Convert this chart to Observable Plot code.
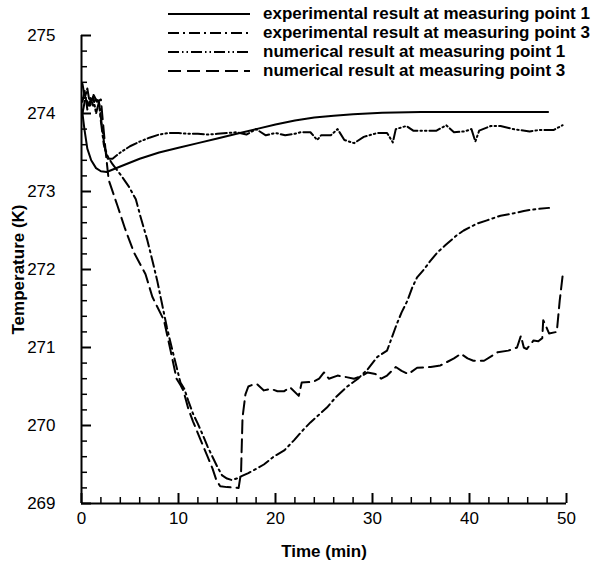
<!DOCTYPE html>
<html><head><meta charset="utf-8">
<script src="https://cdn.jsdelivr.net/npm/d3@7"></script>
<script src="https://cdn.jsdelivr.net/npm/@observablehq/plot@0.6"></script>
<style>
body{margin:0;background:#fff;}
#wrap{position:relative;width:611px;height:564px;font-family:"Liberation Sans",Arial,Helvetica,sans-serif;}
#legend{position:absolute;left:168px;top:4px;}
.row{display:flex;align-items:center;height:19px;font-weight:bold;font-size:17px;color:#000;white-space:nowrap;}
.row svg{margin-right:13px;display:block}
g[aria-label="x-axis label"] text, g[aria-label="y-axis label"] text{font-weight:bold;font-size:17px;}
</style></head><body><div id="wrap"><div id="chart"></div><div id="legend"></div></div>
<script>
// tick values
const xMajorTicks = [0, 10, 20, 30, 40, 50];
const xMinorTicks = [2, 4, 6, 8, 12, 14, 16, 18, 22, 24, 26, 28, 32, 34, 36, 38, 42, 44, 46, 48];
const yMajorTicks = [269, 270, 271, 272, 273, 274, 275];
const yMinorTicks = [269.2, 269.4, 269.6, 269.8, 270.2, 270.4, 270.6, 270.8, 271.2, 271.4, 271.6, 271.8,
  272.2, 272.4, 272.6, 272.8, 273.2, 273.4, 273.6, 273.8, 274.2, 274.4, 274.6, 274.8];

// series names
const seriesNames = ["experimental result at measuring point 1", "experimental result at measuring point 3",
  "numerical result at measuring point 1", "numerical result at measuring point 3"];

// experimental result at measuring point 1 (solid)
const exp1Time = [0.05, 0.3, 0.6, 1.0, 1.5, 2.0, 2.6, 4, 6, 8, 10, 12, 14, 16, 18, 20, 22, 24, 26, 28, 31, 35, 40, 48.1];
const exp1Temp = [274.05, 273.8, 273.55, 273.4, 273.3, 273.26, 273.25, 273.32, 273.42, 273.5, 273.56, 273.62, 273.68, 273.74, 273.8, 273.86, 273.91, 273.95, 273.97, 273.99, 274.01, 274.02, 274.02, 274.02];

// experimental result at measuring point 3 (dash-dot)
const exp3Time = [0.1, 0.35, 0.6, 0.9, 1.2, 1.5, 1.8, 2.0, 2.3, 2.7, 3.2, 4.0, 4.9, 5.6, 6.1, 6.8, 7.3, 7.8, 8.3, 8.8, 9.3, 9.8, 10.2, 10.6, 11, 11.5, 12, 12.5, 13, 13.5, 14, 14.5, 15, 15.5, 16, 16.5, 17.2, 17.8, 18.8, 19.8, 20.9, 21.9, 22.9, 23.6, 24.5, 25.3, 26.2, 27.4, 28.5, 29.5, 30.5, 31.5, 32.0, 32.5, 33.0, 33.6, 34.1, 34.6, 35.3, 35.9, 36.7, 37.5, 38.7, 39.4, 40.8, 41.8, 43.2, 44.2, 45.6, 46.6, 48.2];
const exp3Temp = [274.15, 274.3, 274.05, 274.2, 274.1, 274.2, 274.15, 273.9, 273.6, 273.45, 273.35, 273.22, 273.06, 272.9, 272.67, 272.37, 272.12, 271.86, 271.56, 271.26, 271.0, 270.75, 270.55, 270.47, 270.32, 270.15, 270.02, 269.88, 269.73, 269.6, 269.47, 269.36, 269.32, 269.3, 269.32, 269.35, 269.39, 269.43, 269.5, 269.6, 269.68, 269.81, 269.95, 270.04, 270.14, 270.23, 270.36, 270.5, 270.6, 270.72, 270.88, 270.96, 271.13, 271.3, 271.45, 271.6, 271.77, 271.9, 272.0, 272.1, 272.22, 272.31, 272.44, 272.5, 272.59, 272.63, 272.69, 272.71, 272.75, 272.77, 272.79];

// numerical result at measuring point 1 (dash-dot-dot)
const num1Time = [0.1, 0.35, 0.6, 0.9, 1.2, 1.5, 1.8, 2.1, 2.4, 2.7, 3.2, 4, 5, 6, 7, 8, 9, 10, 11, 12, 13, 14, 15, 16, 17, 18, 19, 20, 21, 22, 22.6, 23.6, 24.3, 24.7, 25.7, 26.4, 27.1, 28.1, 29.1, 30.5, 31.5, 32.1, 32.4, 33.5, 34.2, 35.6, 36.6, 37.6, 38.4, 39.5, 40.2, 40.6, 41.0, 42.2, 43.2, 44.5, 46.2, 47.3, 48.7, 49.6];
const num1Temp = [274.38, 274.2, 274.32, 274.1, 274.22, 274.0, 274.15, 273.85, 273.55, 273.42, 273.42, 273.5, 273.58, 273.64, 273.69, 273.73, 273.75, 273.75, 273.74, 273.74, 273.73, 273.74, 273.75, 273.76, 273.73, 273.8, 273.72, 273.75, 273.72, 273.74, 273.76, 273.76, 273.66, 273.72, 273.72, 273.8, 273.66, 273.62, 273.7, 273.75, 273.75, 273.63, 273.8, 273.84, 273.78, 273.78, 273.78, 273.85, 273.76, 273.77, 273.8, 273.64, 273.78, 273.84, 273.84, 273.8, 273.77, 273.79, 273.79, 273.85];

// numerical result at measuring point 3 (long dash)
const num3Time = [0.1, 0.4, 0.8, 1.2, 1.6, 2.0, 2.2, 2.5, 2.8, 3.7, 4.5, 5.4, 6.6, 7.3, 8.5, 9.2, 9.8, 10.2, 10.5, 11, 11.5, 12, 12.5, 13, 13.5, 13.9, 14.3, 15, 16.2, 16.45, 16.6, 16.9, 17.2, 17.6, 18.1, 18.8, 19.5, 20.2, 20.9, 21.5, 22.4, 22.7, 23.9, 24.5, 25.0, 25.5, 26.4, 27.3, 28.1, 28.8, 29.5, 30.3, 30.9, 31.5, 32.4, 33.0, 33.7, 34.6, 36.0, 37.0, 38.4, 39.1, 39.8, 40.4, 41.5, 42.9, 44.0, 44.9, 45.3, 45.6, 45.9, 46.6, 47.1, 47.5, 47.6, 48.0, 48.2, 49.0, 49.3, 49.6];
const num3Temp = [274.0, 274.2, 274.1, 274.25, 274.15, 274.18, 273.9, 273.5, 273.15, 272.82, 272.52, 272.22, 271.94, 271.65, 271.35, 270.95, 270.6, 270.52, 270.45, 270.22, 270.05, 269.9, 269.75, 269.6, 269.45, 269.3, 269.22, 269.21, 269.2, 269.4, 270.1, 270.4, 270.5, 270.52, 270.53, 270.45, 270.47, 270.44, 270.44, 270.49, 270.38, 270.55, 270.56, 270.6, 270.68, 270.6, 270.64, 270.62, 270.6, 270.63, 270.68, 270.66, 270.6, 270.64, 270.75, 270.7, 270.66, 270.74, 270.75, 270.77, 270.86, 270.92, 270.86, 270.83, 270.83, 270.94, 270.96, 271.0, 271.15, 271.0, 270.98, 271.09, 271.08, 271.12, 271.35, 271.24, 271.18, 271.2, 271.6, 271.92];

const rows = (ts, ks) => ts.map((t, i) => ({t, k: ks[i]}));
const dashes = [null, "11,4,2,4", "11,3,1.5,3,1.5,3", "13,6"];
const series = [
  rows(exp1Time, exp1Temp), rows(exp3Time, exp3Temp), rows(num1Time, num1Temp), rows(num3Time, num3Temp)
];

const chart = Plot.plot({
  width: 611, height: 564,
  marginLeft: 81, marginRight: 45, marginTop: 35, marginBottom: 61,
  style: {fontFamily: "'Liberation Sans', Arial, Helvetica, sans-serif", fontSize: "17px", color: "#000", background: "#fff"},
  x: {domain: [0, 50]},
  y: {domain: [269, 275]},
  marks: [
    Plot.axisX(xMinorTicks, {tickSize: -6, strokeWidth: 1.5, fill: null, label: null}),
    Plot.axisX(xMajorTicks, {tickSize: -10, strokeWidth: 2, tickPadding: 18, tickFormat: d => String(d), label: "Time (min)", labelAnchor: "center", labelArrow: "none", labelOffset: 53}),
    Plot.axisY(yMinorTicks, {tickSize: -6, strokeWidth: 1.5, fill: null, label: null}),
    Plot.axisY(yMajorTicks, {tickSize: -10, strokeWidth: 2, tickPadding: 36, tickFormat: d => String(d), label: "Temperature (K)", labelAnchor: "center", labelArrow: "none", labelOffset: 70}),
    Plot.ruleX([0], {strokeWidth: 2}),
    Plot.ruleY([269], {strokeWidth: 2}),
    ...series.map((s, i) => Plot.line(s, {x: "t", y: "k", stroke: "#000", strokeWidth: 2, strokeDasharray: dashes[i] || undefined}))
  ]
});
document.getElementById("chart").appendChild(chart);

const legend = document.getElementById("legend");
seriesNames.forEach((name, i) => {
  const row = document.createElement("div");
  row.className = "row";
  row.innerHTML = `<svg width="82" height="4"><line x1="0" y1="2" x2="82" y2="2" stroke="#000" stroke-width="2" ${dashes[i] ? `stroke-dasharray="${dashes[i]}"` : ""}/></svg><span>${name}</span>`;
  legend.appendChild(row);
});
</script>
</body></html>
